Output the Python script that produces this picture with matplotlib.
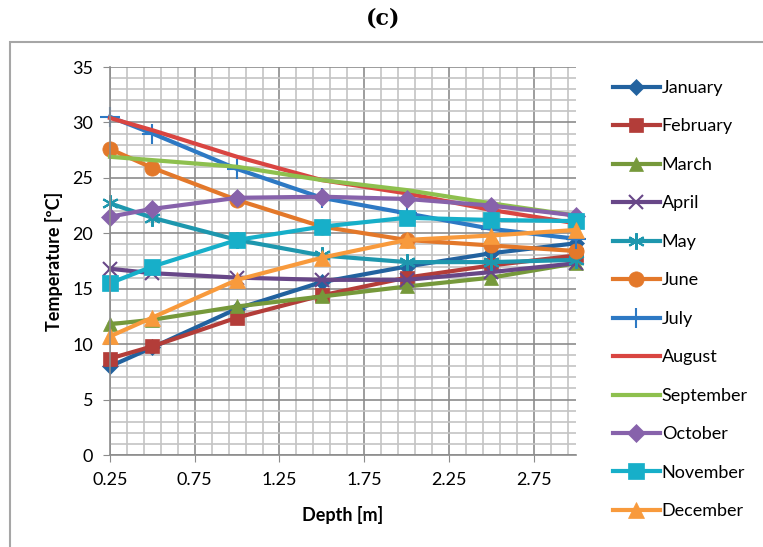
import numpy as np
import matplotlib
matplotlib.use('Agg')
import matplotlib.pyplot as plt
from matplotlib.patches import Rectangle
from matplotlib.ticker import MultipleLocator, FixedLocator

# depth of each measurement [m]
depth = [0.25, 0.5, 1.0, 1.5, 2.0, 2.5, 3.0]

january   = [8.0, 9.7, 13.2, 15.6, 17.0, 18.2, 19.1]
february  = [8.7, 9.8, 12.4, 14.4, 16.0, 17.1, 18.0]
march     = [11.8, 12.2, 13.4, 14.3, 15.2, 16.0, 17.3]
april     = [16.8, 16.4, 16.0, 15.8, 15.8, 16.5, 17.3]
may       = [22.7, 21.4, 19.4, 18.0, 17.4, 17.4, 17.6]
june      = [27.6, 25.9, 23.0, 20.6, 19.4, 18.9, 18.4]
july      = [30.5, 29.0, 25.8, 23.2, 21.8, 20.4, 19.5]
august    = [30.4, 29.3, 26.9, 24.8, 23.6, 22.1, 20.9]
september = [26.9, 26.6, 26.0, 24.8, 23.9, 22.7, 21.6]
october   = [21.5, 22.2, 23.2, 23.3, 23.1, 22.5, 21.6]
november  = [15.5, 17.0, 19.4, 20.6, 21.4, 21.2, 21.1]
december  = [10.7, 12.4, 15.8, 17.8, 19.4, 19.8, 20.3]

months = ['January', 'February', 'March', 'April', 'May', 'June', 'July',
          'August', 'September', 'October', 'November', 'December']
series = [january, february, march, april, may, june, july,
          august, september, october, november, december]

x_ticks = [0.25, 0.75, 1.25, 1.75, 2.25, 2.75]


def main():
    plt.rcParams['font.family'] = ['Lato', 'DejaVu Sans']

    colors = ['#22629F', '#B33D39', '#76993B', '#684788', '#1E97AE', '#E3782A',
              '#2D79C4', '#D94541', '#8EC04E', '#8762AB', '#17AFC9', '#F89A3C']
    markers = ['D', 's', '^', 'x', (6, 2, 0), 'o', '+', None, None, 'D', 's', '^']
    msizes = [8, 10, 10, 10, 12, 11, 14, 0, 0, 9, 11, 11]

    fig = plt.figure(figsize=(7.63, 5.47), dpi=100)
    ax = fig.add_axes([110/763, 1-455/547, (576-110)/763, (455-67)/547])

    # outer frame
    fig.patches.append(Rectangle((10/763, -0.05), 1.2, 1.05 - 42/547,
                                 transform=fig.transFigure, fill=False,
                                 edgecolor='#a6a6a6', lw=1.5, zorder=0))

    for vals, name, c, m, ms in zip(series, months, colors, markers, msizes):
        ax.plot(depth, vals, color=c, lw=3, marker=m, markersize=ms,
                markeredgewidth=1.5 if m in ('x', '+', (6, 2, 0)) else 0.5,
                markeredgecolor=c, label=name, clip_on=False)

    ax.set_xlim(0.25, 3.0)
    ax.set_ylim(0, 35)
    ax.xaxis.set_major_locator(FixedLocator(x_ticks))
    ax.xaxis.set_minor_locator(FixedLocator(np.arange(0.35, 3.0, 0.1)))
    ax.yaxis.set_major_locator(MultipleLocator(5))
    ax.yaxis.set_minor_locator(MultipleLocator(1))
    ax.set_xticklabels(['%.2f' % v for v in x_ticks])

    ax.grid(which='major', color='#8c8c8c', lw=1.2)
    ax.grid(which='minor', color='#c4c4c4', lw=1.2)
    ax.set_axisbelow(True)
    for s in ['top', 'right']:
        ax.spines[s].set_visible(False)
    for s in ['left', 'bottom']:
        ax.spines[s].set_color('#8c8c8c')
        ax.spines[s].set_linewidth(1.2)
    ax.tick_params(which='major', length=5, color='#8c8c8c', labelsize=13, pad=7)
    ax.tick_params(which='minor', length=0)

    ax.set_xlabel('Depth [m]', fontsize=13, fontweight='bold', labelpad=13)
    ax.set_ylabel('Temperature [ºC]', fontsize=13, fontweight='bold', labelpad=7)

    fig.text(383/763, 1-18/547, '(c)', ha='center', va='center',
             fontsize=16, fontweight='bold', family='DejaVu Serif')

    ax.legend(loc='upper left', bbox_to_anchor=(613/763, 1-80/547),
              bbox_transform=fig.transFigure, frameon=False, fontsize=13,
              handlelength=2.6, handletextpad=0.1, labelspacing=1.245,
              borderpad=0, borderaxespad=0)

    fig.savefig('out.png', dpi=100)


if __name__ == "__main__":
    main()
